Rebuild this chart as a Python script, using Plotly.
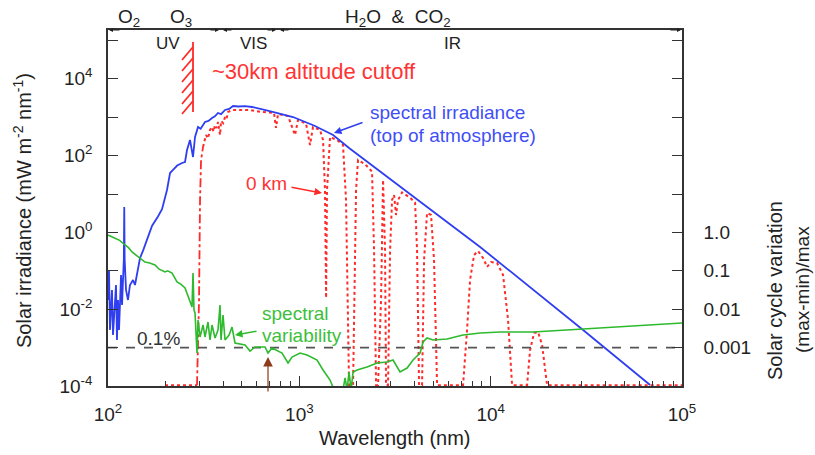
import plotly.graph_objects as go

# ---------------- data ----------------
blue_wl = [100, 101.2, 102.4, 104.9, 106.2, 108.8, 110.1, 111.4, 112.8, 114.2, 115.5, 117.0,
           118.4, 119.8, 121.0, 121.6, 122.2, 124.2, 127.2, 130.3, 135.1, 138.4, 143.5, 147.0,
           153.0, 160.0, 170.0, 182.5, 191.6, 203.4, 211.0, 218.7, 230.0, 243.7, 252.7, 258.8,
           268.3, 278.2, 285.0, 295.5, 305.0, 321.3, 335.0, 349.7, 362.0, 375.8, 390.0, 408.9,
           430.0, 450.3, 480.0, 520.0, 565.6, 700.0, 927.0, 1200.0, 1501, 1819, 2500, 3569,
           5500, 8806, 30410, 68110]
blue_irr = [0.0174, 0.105, 0.00288, 0.0316, 0.00213, 0.0174, 0.0427, 0.00158, 0.0174, 0.00288,
            0.0095, 0.078, 0.0128, 0.078, 0.2, 4.58, 0.2, 0.0316, 0.0174, 0.0427, 0.0575, 0.0427,
            0.105, 0.215, 0.35, 0.634, 1.5, 2.6, 4.0, 12.7, 35.2, 42.2, 55.0, 64.1, 68.1, 140,
            255, 92, 305, 556, 500, 750, 800, 953, 1050, 1286, 1200, 1540,
            1650, 1958, 1900, 1950, 1845, 1450, 1012, 600, 344, 158, 48, 12.7,
            2.46, 0.417, 0.00288, 0.000106]

red_wl = [198.6, 291.9, 299.1, 302.7, 306.4, 313.8, 320, 325.3, 333, 341.3, 349.7, 356, 362.6,
          370, 375.8, 385, 390, 400, 408.9, 416, 424.0, 444.8, 489.8, 552.4, 638.3, 737.3,
          755.3, 773.8, 872.9, 949.5, 984.4, 1084, 1137, 1179, 1283, 1330, 1362, 1380, 1395,
          1447, 1574, 1692, 1754, 1819, 1909, 1979, 2027, 2205, 2399, 2458, 2518, 2578, 2674,
          2739, 2805, 2839, 2908, 2980, 3052, 3127, 3203, 3281, 3443, 3791, 4026, 4124, 4225,
          4379, 4486, 4650, 4880, 5059, 5247, 7173, 7525, 7804, 8189, 8593, 9127, 9576, 10050,
          10800, 11610, 12330, 12940, 15500, 16070, 16860, 17690, 18570, 19720, 100000]
red_irr = [1.05e-4, 1.05e-4, 0.0174, 6.98, 76.8, 167.5, 250, 344, 280, 464, 556, 420, 627,
           520, 750, 344, 800, 700, 1012, 900, 1365, 1540, 1540, 1540, 1365, 1286,
           524, 1211, 1074, 344, 845, 680, 189, 556, 464, 255, 12.7, 0.0196, 12.7,
           305, 255, 189, 6.98, 1.05e-4, 1.05e-4, 12.7, 76.8, 60, 38, 0.348, 1.05e-4, 1.05e-4, 0.0174,
           23.2, 0.348, 1.05e-4, 1.05e-4, 0.348, 6.98, 9.42, 2.84, 6.98, 11, 8.0, 6.0, 0.348, 1.05e-4,
           1.05e-4, 0.191, 3.2, 2.84, 0.191, 1.05e-4, 1.05e-4, 0.00287, 0.0575, 0.258, 0.328, 0.215, 0.126, 0.169,
           0.16, 0.0778, 0.00524, 1.05e-4, 1.05e-4, 0.000866, 0.0024, 0.00255, 0.00117, 1.05e-4, 1.05e-4]

green_wl = [100, 108.8, 115, 122.7, 128, 133.5, 143.5, 150, 156.1, 165, 176.1, 185, 198.6, 205,
            216.1, 229.5, 240, 252.7, 262.0, 274.9, 278.2, 281.5, 285.0, 291.9, 295.5, 302.7,
            313.8, 321.3, 333.1, 341.3, 349.7, 362.6, 375.8, 385.0, 389.7, 399.2, 408.9, 429.1,
            444.8, 461.2, 520.2, 552.4, 586.8, 661.7, 686.1, 719.8, 812.2, 872.9, 915.8, 1009,
            1097, 1238, 1330, 1447, 1518, 1692, 1734, 1776, 1819, 1864, 1909, 2003, 2259, 2548,
            2873, 3089, 3360, 3656, 3929, 4276, 4433, 4650, 5000, 5917, 7173, 8806, 11200, 16660,
            30410, 100000]
green_var = [0.855, 0.714, 0.62, 0.47, 0.40, 0.309, 0.229, 0.2, 0.169, 0.16, 0.142, 0.11, 0.0931, 0.10,
             0.0877, 0.0511, 0.045, 0.0356, 0.0208, 0.0114, 0.0877, 0.00953, 0.00796, 0.000723, 0.00524, 0.00189,
             0.00388, 0.00189, 0.00465, 0.00158, 0.00388, 0.00178, 0.00287, 0.0128, 0.00158, 0.00706, 0.00158, 0.00213,
             0.00343, 0.00132, 0.00117, 0.000814, 0.00104, 0.00104, 0.000723, 0.000977, 0.000723, 0.000397, 0.000569, 0.000723,
             0.000641, 0.000475, 0.000261, 0.000143, 8e-5, 8e-5, 0.000162, 8e-5, 0.000232, 8e-5, 0.000232, 0.000261, 0.000313, 0.000397,
             0.000422, 0.000475, 0.000232, 0.000294, 0.000475, 0.000723, 0.0014, 0.00178, 0.00158, 0.00167, 0.00213, 0.0024, 0.00255, 0.00255,
             0.00305, 0.00438]

ref_wl = [100, 100000]
ref_var = [0.001, 0.001]

x_ticks = [1e2, 1e3, 1e4, 1e5]
x_ticktext = ["10<sup>2</sup>", "10<sup>3</sup>", "10<sup>4</sup>", "10<sup>5</sup>"]
y_ticks = [1e-4, 1e-2, 1e0, 1e2, 1e4]
y_ticktext = ["10<sup>-4</sup>", "10<sup>-2</sup>", "10<sup>0</sup>", "10<sup>2</sup>", "10<sup>4</sup>"]
y_minor = [1e-3, 1e-1, 1e1, 1e3, 1e5]
y2_ticks = [1e-3, 1e-2, 1e-1, 1e0]
y2_ticktext = ["0.001", "0.01", "0.1", "1.0"]
y2_minor = [1e-4, 1e1, 1e2, 1e3, 1e4, 1e5]

# ---------------- layout geometry ----------------
W, H = 815, 455
L, R, T, B = 108, 682, 30, 386
FONT = "Liberation Sans, Arial, Helvetica, sans-serif"


def fx(p):
    return (p - L) / (R - L)


def fy(p):
    return (B - p) / (B - T)


BLUE = "#2f3ff0"
RED = "#ff2a2a"
GREEN = "#2dba2d"
AX = "#333333"

fig = go.Figure()
# red 0 km curve: bottom part dotted, UV cutoff dash-dot, rest dotted
fig.add_trace(go.Scatter(x=red_wl[:2], y=red_irr[:2], mode="lines",
                         line=dict(color=RED, width=2, dash="dot"), hoverinfo="skip"))
fig.add_trace(go.Scatter(x=red_wl[1:6], y=red_irr[1:6], mode="lines",
                         line=dict(color=RED, width=1.8, dash="dashdot"), hoverinfo="skip"))
fig.add_trace(go.Scatter(x=red_wl[5:], y=red_irr[5:], mode="lines",
                         line=dict(color=RED, width=2, dash="dot"), hoverinfo="skip"))
fig.add_trace(go.Scatter(x=blue_wl, y=blue_irr, mode="lines",
                         line=dict(color=BLUE, width=1.8), hoverinfo="skip"))
fig.add_trace(go.Scatter(x=ref_wl, y=ref_var, mode="lines", yaxis="y2",
                         line=dict(color="#555555", width=1.6, dash="dash"), hoverinfo="skip"))
fig.add_trace(go.Scatter(x=green_wl, y=green_var, mode="lines", yaxis="y2",
                         line=dict(color=GREEN, width=1.6), hoverinfo="skip"))

yr = [-4, 5.271]
minor_x = [m * 10 ** e for e in (2, 3, 4) for m in range(2, 10)]

fig.update_layout(
    width=W, height=H,
    margin=dict(l=L, r=W - R, t=T, b=H - B),
    plot_bgcolor="white", paper_bgcolor="white", showlegend=False,
    font=dict(family=FONT, color="#222222"),
    xaxis=dict(type="log", range=[2, 5], showline=True, linecolor=AX, linewidth=1.5, mirror=True,
               ticks="inside", ticklen=10, tickcolor=AX, tickwidth=1,
               tickvals=x_ticks, ticktext=x_ticktext, tickfont=dict(size=19, family=FONT, color="#222"),
               ticklabelstandoff=10, showgrid=False, zeroline=False,
               minor=dict(ticks="inside", ticklen=5, tickvals=minor_x, tickcolor=AX, showgrid=False)),
    yaxis=dict(type="log", range=yr, showline=True, linecolor=AX, linewidth=1.5,
               ticks="inside", ticklen=10, tickcolor=AX, tickvals=y_ticks, ticktext=y_ticktext,
               tickfont=dict(size=19, family=FONT, color="#222"), ticklabelstandoff=10,
               showgrid=False, zeroline=False,
               minor=dict(ticks="inside", ticklen=10, tickvals=y_minor, tickcolor=AX, showgrid=False)),
    yaxis2=dict(type="log", range=yr, overlaying="y", side="right", showline=True, linecolor=AX,
                linewidth=1.5, ticks="inside", ticklen=10, tickcolor=AX, tickvals=y2_ticks,
                ticktext=y2_ticktext, tickfont=dict(size=19, family=FONT, color="#222"),
                ticklabelstandoff=16, showgrid=False, zeroline=False,
                minor=dict(ticks="inside", ticklen=10, tickvals=y2_minor, tickcolor=AX, showgrid=False)),
)

ann = []


def text(px_, py_, s, size, color="#222222", anchor="center", angle=0):
    ann.append(dict(x=fx(px_), y=fy(py_), xref="paper", yref="paper", text=s, showarrow=False,
                    xanchor=anchor, yanchor="middle", textangle=angle,
                    font=dict(size=size, color=color, family=FONT)))


def arrow(px_, py_, ax, ay, color, head=2, size=1.0, width=1.2):
    ann.append(dict(x=fx(px_), y=fy(py_), xref="paper", yref="paper", text="", showarrow=True,
                    ax=ax, ay=ay, axref="pixel", ayref="pixel", arrowcolor=color, arrowhead=head,
                    arrowsize=size, arrowwidth=width))


# axis titles
text(22, 211, "Solar irradiance (mW m<sup>-2</sup> nm<sup>-1</sup>)", 20, angle=-90)
text(775, 290, "Solar cycle variation", 20, angle=-90)
text(802, 290, "(max-min)/max", 19, angle=-90)
text(395, 438, "Wavelength (nm)", 20)

# top region labels
text(129, 18, "O<sub>2</sub>", 19)
text(181, 18, "O<sub>3</sub>", 19)
text(398, 18, "H<sub>2</sub>O  &amp;  CO<sub>2</sub>", 19)
text(168, 44, "UV", 17)
text(253, 44, "VIS", 17)
text(453, 44, "IR", 17)

# top arrows (regions)
arrow(L + 1, T, 12, 0, "#222", head=2, size=0.8, width=1)
arrow(219, T, -10, 0, "#222", head=2, size=0.8, width=1)
arrow(223, T, 10, 0, "#222", head=2, size=0.8, width=1)
arrow(276, T, -10, 0, "#222", head=2, size=0.8, width=1)
arrow(280, T, 10, 0, "#222", head=2, size=0.8, width=1)
arrow(R - 1, T, -12, 0, "#222", head=2, size=0.8, width=1)

# in-plot labels
text(210, 72, "~30km altitude cutoff", 22, color="#ff3333", anchor="left")
text(368, 113, "spectral irradiance", 19, color="#3f4ff5", anchor="left")
text(368, 135, "(top of atmosphere)", 19, color="#3f4ff5", anchor="left")
text(244, 183, "0 km", 19, color="#ff3333", anchor="left")
text(260, 313, "spectral", 19, color="#3cc03c", anchor="left")
text(260, 335, "variability", 19, color="#3cc03c", anchor="left")
text(135, 338, "0.1%", 19, color="#333333", anchor="left")

# pointer arrows
arrow(334, 133, 30, -11, BLUE, head=2, size=1.0, width=1.5)
arrow(322, 193, -32, -6, RED, head=2, size=1.0, width=1.5)
arrow(235, 335, 23, -4, GREEN, head=2, size=1.0, width=1.5)
arrow(268, 357, 0, 36, "#8b3a1a", head=2, size=1.6, width=1.2)

fig.update_layout(annotations=ann)

# hatch marks for altitude cutoff
shapes = [dict(type="line", xref="paper", yref="paper", x0=fx(193), x1=fx(193), y0=fy(42), y1=fy(112),
               line=dict(color=RED, width=1.8))]
for yy in (47, 58, 69, 80, 91, 101):
    shapes.append(dict(type="line", xref="paper", yref="paper", x0=fx(193), x1=fx(182),
                       y0=fy(yy), y1=fy(yy + 13), line=dict(color=RED, width=1.8)))
fig.update_layout(shapes=shapes)

fig.write_html("out.html")
